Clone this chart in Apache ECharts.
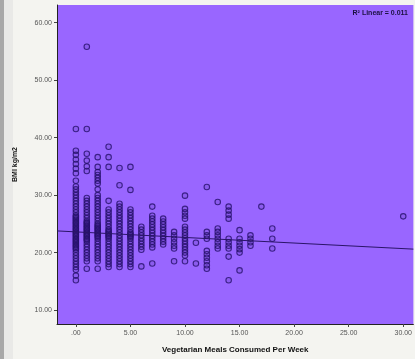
<!DOCTYPE html>
<html>
<head>
<meta charset="utf-8">
<script src="https://cdn.jsdelivr.net/npm/echarts@6/dist/echarts.min.js"></script>
<style>
  html, body { margin: 0; padding: 0; }
  .container {
    width: 415px;
    height: 359px;
    position: relative;
    overflow: hidden;
    background-color: #f4f4f0;
  }
  .strip {
    position: absolute; left: 0; top: 0; bottom: 0; width: 4px;
    background: #a8a8a8;
  }
  .strip2 {
    position: absolute; left: 4px; top: 0; bottom: 0; width: 9px;
    background: #e9e9e7;
  }
  .chart { position: absolute; left: 0; top: 0; width: 415px; height: 359px; }
</style>
</head>
<body>
<div class="container">
  <div class="strip"></div>
  <div class="strip2"></div>
  <div class="chart" id="main"></div>
</div>
<script>
  // meals per week (x) and BMI readings in each column
  const mealCounts = [0, 1, 2, 3, 4, 5, 6, 7, 8, 9, 10, 11, 12, 13, 14, 15, 16, 17, 18, 30]
  const bmiValues = [
    [41.5, 37.7, 37.0, 36.2, 35.4, 34.6, 33.8, 32.5, 31.5, 31.0, 30.5, 30.0, 29.5, 29.0, 28.5, 28.0, 27.5, 27.0, 26.5, 26.25, 26.0, 25.75, 25.5, 25.25, 25.0, 24.75, 24.5, 24.25, 24.0, 23.75, 23.5, 23.25, 23.0, 22.75, 22.5, 22.25, 22.0, 21.75, 21.5, 21.25, 21.0, 20.75, 20.5, 20.0, 19.5, 19.0, 18.5, 18.0, 17.5, 17.0, 16.0, 15.2],
    [55.8, 41.5, 37.2, 36.0, 35.0, 34.2, 29.5, 29.0, 28.5, 28.0, 27.5, 27.0, 26.5, 26.0, 25.5, 25.25, 25.0, 24.75, 24.5, 24.25, 24.0, 23.75, 23.5, 23.25, 23.0, 22.75, 22.5, 22.25, 22.0, 21.5, 21.0, 20.5, 20.0, 19.5, 19.0, 18.5, 17.2],
    [36.6, 34.9, 34.0, 33.5, 33.0, 32.5, 32.0, 31.0, 30.0, 29.5, 29.0, 28.5, 28.0, 27.5, 27.0, 26.5, 26.0, 25.5, 25.0, 24.75, 24.5, 24.25, 24.0, 23.75, 23.5, 23.25, 23.0, 22.75, 22.5, 22.0, 21.5, 21.0, 20.5, 20.0, 19.5, 19.0, 18.5, 17.2],
    [38.4, 36.6, 34.9, 29.0, 27.5, 27.0, 26.5, 26.0, 25.5, 25.0, 24.5, 24.0, 23.75, 23.5, 23.25, 23.0, 22.75, 22.5, 22.0, 21.5, 21.0, 20.5, 20.0, 19.5, 19.0, 18.5, 18.0, 17.5],
    [34.7, 31.7, 28.5, 28.0, 27.5, 27.0, 26.5, 26.0, 25.5, 25.0, 24.5, 24.0, 23.5, 23.0, 22.5, 22.0, 21.5, 21.0, 20.5, 20.0, 19.5, 19.0, 18.5, 18.0, 17.5],
    [34.9, 30.9, 27.5, 27.0, 26.5, 26.0, 25.5, 25.0, 24.5, 24.0, 23.5, 23.25, 23.0, 22.75, 22.5, 22.0, 21.5, 21.0, 20.5, 20.0, 19.5, 19.0, 18.5, 18.0, 17.5],
    [24.5, 24.0, 23.5, 23.0, 22.5, 22.0, 21.5, 21.0, 20.5, 17.6],
    [28.0, 26.4, 25.9, 25.4, 24.9, 24.4, 23.9, 23.4, 22.9, 22.4, 21.9, 21.4, 20.9, 18.1],
    [25.9, 25.4, 24.9, 24.4, 23.9, 23.4, 22.9, 22.4, 21.9, 21.4],
    [23.6, 23.0, 22.4, 21.8, 21.2, 20.7, 18.5],
    [29.9, 27.6, 27.0, 26.4, 25.9, 24.5, 24.0, 23.5, 23.0, 22.5, 22.0, 21.5, 21.0, 20.5, 20.0, 19.5, 18.5],
    [21.7, 18.1],
    [31.4, 23.6, 23.0, 22.4, 20.3, 19.7, 19.1, 18.5, 17.8, 17.2],
    [28.8, 24.2, 23.6, 23.0, 22.4, 21.8, 21.2, 20.7],
    [28.0, 27.3, 26.6, 25.9, 22.4, 21.8, 21.2, 20.7, 19.3, 15.2],
    [23.9, 22.4, 21.8, 21.2, 20.6, 20.0, 16.9],
    [23.0, 22.4, 21.8, 21.2],
    [28.0],
    [24.2, 22.4, 20.7],
    [26.3]
  ]
  // fit line end points
  const fitX = [-1.73, 30.93]
  const fitY = [23.77, 20.6]
  const xTicks = [0, 5, 10, 15, 20, 25, 30]
  const yTicks = [10, 20, 30, 40, 50, 60]
  const rSquaredText = 'R² Linear = 0.011'

  const points = []
  mealCounts.forEach((m, i) => {
    bmiValues[i].forEach(b => points.push([m, b]))
  })

  const chartInstance = echarts.init(document.getElementById('main'), null, { renderer: 'canvas' })

  const option = {
    animation: false,
    textStyle: { fontFamily: 'Liberation Sans, Arial, sans-serif' },
    grid: {
      left: 57,
      top: 5,
      right: 0,
      bottom: 33,
      show: true,
      backgroundColor: '#9966ff',
      borderWidth: 0
    },
    xAxis: {
      type: 'value',
      min: fitX[0],
      max: fitX[1],
      name: 'Vegetarian Meals Consumed Per Week',
      nameLocation: 'middle',
      nameGap: 22,
      nameTextStyle: { fontSize: 8, fontWeight: 'bold', color: '#111' },
      splitLine: { show: false },
      axisLine: { show: true, onZero: false, lineStyle: { color: '#222', width: 1 } },
      axisTick: { show: true, customValues: xTicks, length: 3, lineStyle: { color: '#444' } },
      axisLabel: {
        customValues: xTicks,
        fontSize: 7,
        color: '#555',
        margin: 6,
        formatter: v => v === 0 ? '.00' : v.toFixed(2)
      }
    },
    yAxis: {
      type: 'value',
      min: 7.58,
      max: 63.06,
      name: 'BMI kg/m2',
      nameLocation: 'middle',
      nameGap: 38,
      nameTextStyle: { fontSize: 7, fontWeight: 'bold', color: '#111' },
      splitLine: { show: false },
      axisLine: { show: true, onZero: false, lineStyle: { color: '#222', width: 1 } },
      axisTick: { show: true, customValues: yTicks, length: 3, lineStyle: { color: '#444' } },
      axisLabel: {
        customValues: yTicks,
        fontSize: 7,
        color: '#555',
        margin: 5,
        formatter: v => v.toFixed(2)
      }
    },
    graphic: [
      {
        type: 'text',
        right: 7,
        top: 10,
        style: {
          text: rSquaredText,
          fontSize: 7,
          fontWeight: 'bold',
          fill: '#1a1040',
          fontFamily: 'Liberation Sans, Arial, sans-serif'
        }
      }
    ],
    series: [
      {
        type: 'scatter',
        data: points,
        symbol: 'circle',
        symbolSize: 5.5,
        itemStyle: {
          color: 'rgba(40,16,110,0.15)',
          borderColor: '#26106a',
          borderWidth: 1.1
        }
      },
      {
        type: 'line',
        data: fitX.map((x, i) => [x, fitY[i]]),
        symbol: 'none',
        lineStyle: { color: '#2a1468', width: 1 },
        z: 3
      }
    ]
  }

  chartInstance.setOption(option)
</script>
</body>
</html>
